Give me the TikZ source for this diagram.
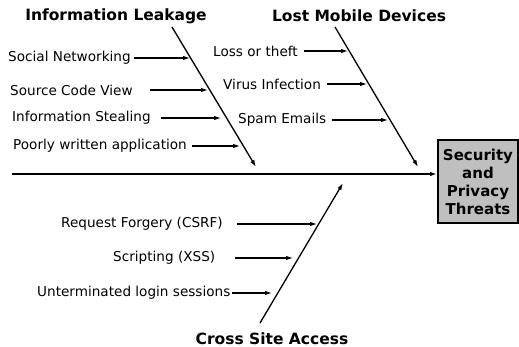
\documentclass[tikz,border=0pt]{standalone}
\usepackage{fontspec}
\setmainfont{DejaVu Sans}
\usetikzlibrary{arrows,arrows.meta}
\tikzset{>={Latex[length=7pt,width=4.5pt]}}
\tikzstyle{cause}=[anchor=west,inner sep=0pt,font=\fontsize{13.6}{15}\selectfont]
\tikzstyle{category}=[inner sep=0pt,font=\fontsize{15.5}{18}\selectfont\bfseries]
\tikzstyle{feed}=[->,line width=1.1pt]
\tikzstyle{bone}=[->,line width=1.3pt]
\tikzstyle{effect}=[rectangle,draw=black,fill=gray!50,line width=2pt,align=center,inner sep=0pt,minimum width=80pt,minimum height=83pt,font=\fontsize{15}{18}\selectfont\bfseries]

\begin{document}
\begin{tikzpicture}[x=1pt,y=-1pt]
	\useasboundingbox (0,0) rectangle (519,347);

	% effect box and spine
	\node[effect] (effect) at (478,181.5) {Security\\and\\Privacy\\Threats};
	\coordinate (tail) at (12,174);
	\draw[->,line width=2.4pt] (tail) -- (tail -| effect.west);

	% category heads
	\node[category] (leak) at (116,16) {Information Leakage};
	\node[category] (mobile) at (359,16) {Lost Mobile Devices};
	\node[category] (cross) at (272,339) {Cross Site Access};

	% bones
	\coordinate (leak-top) at (172,27);
	\coordinate (leak-end) at (256,167);
	\coordinate (mobile-top) at (335,27);
	\coordinate (mobile-end) at (418,167);
	\coordinate (cross-bot) at (260,323);
	\coordinate (cross-end) at (343,183);
	\draw[bone] (leak-top) -- (leak-end);
	\draw[bone] (mobile-top) -- (mobile-end);
	\draw[bone] (cross-bot) -- (cross-end);

	% causes: name/text/text x/y/arrow start/arrow end
	\foreach \nm/\txt/\tx/\y/\ax/\bx in {
		sn/Social Networking/8/58/134/190,
		scv/Source Code View/10/90/150/208,
		is/Information Stealing/12/118/161/221,
		pwa/Poorly written application/13/146/192/240,
		lt/Loss or theft/213/51/304/348,
		vi/Virus Infection/223/84/327/367,
		se/Spam Emails/238/120/332/388,
		csrf/Request Forgery (CSRF)/61/224/237/317,
		xss/Scripting (XSS)/113/258/235/293,
		uls/Unterminated login sessions/37/293/232/272} {
		\node[cause] (\nm) at (\tx,\y) {\txt};
		\coordinate (\nm-a) at (\ax,\y);
		\coordinate (\nm-b) at (\bx,\y);
		\draw[feed] (\nm-a) -- (\nm-b);
	};
\end{tikzpicture}
\end{document}
